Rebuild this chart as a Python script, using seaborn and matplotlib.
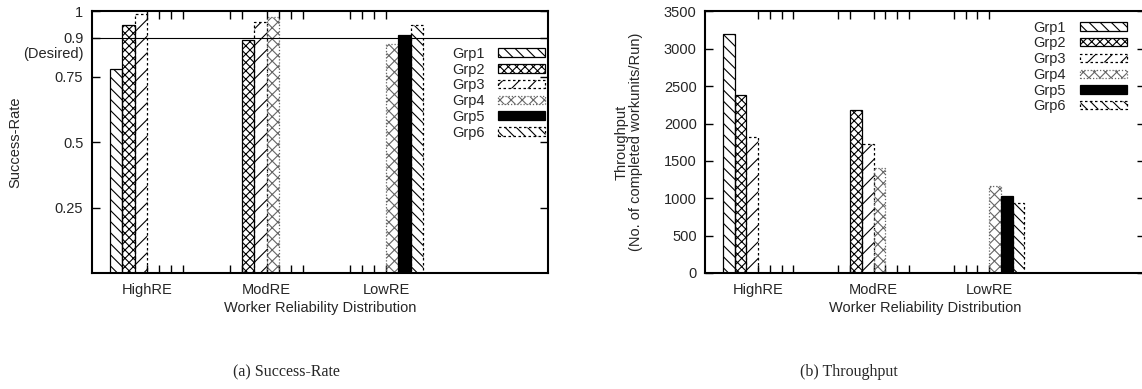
import numpy as np
import pandas as pd
import matplotlib
matplotlib.use("Agg")
import matplotlib.pyplot as plt
from matplotlib.patches import Patch
from matplotlib.transforms import blended_transform_factory, offset_copy
import seaborn as sns

# ---- data -------------------------------------------------------------
categories = ["HighRE", "ModRE", "LowRE"]
groups = ["Grp1", "Grp2", "Grp3", "Grp4", "Grp5", "Grp6"]
nan = np.nan

# success rate per reliability distribution (one value per group)
success_high = [0.78, 0.95, 0.99, nan, nan, nan]
success_mod = [nan, 0.89, 0.96, 0.98, nan, nan]
success_low = [nan, nan, nan, 0.875, 0.912, 0.95]

# throughput (completed workunits per run)
throughput_high = [3200, 2380, 1820, nan, nan, nan]
throughput_mod = [nan, 2175, 1720, 1410, nan, nan]
throughput_low = [nan, nan, nan, 1165, 1025, 940]

success_ticks = [0.25, 0.5, 0.75, 0.9, 1.0]
success_ticklabels = ["0.25", "0.5", "0.75", "0.9", "1"]
desired_rate = 0.9
throughput_ticks = [0, 500, 1000, 1500, 2000, 2500, 3000, 3500]

# ---- styling ----------------------------------------------------------
sns.set_style("ticks")
plt.rcParams["font.family"] = ["Liberation Sans", "DejaVu Sans"]
plt.rcParams["hatch.linewidth"] = 0.8
FS = 10.5
BS = chr(92)  # back-slash hatch stroke

group_style = {
    "Grp1": dict(facecolor="none", edgecolor="black", hatch=BS * 3, linestyle="-"),
    "Grp2": dict(facecolor="none", edgecolor="black", hatch="xxxx", linestyle="-"),
    "Grp3": dict(facecolor="none", edgecolor="black", hatch="//", linestyle=(0, (2, 2))),
    "Grp4": dict(facecolor="none", edgecolor="#666666", hatch="xxx", linestyle=(0, (1, 1.5))),
    "Grp5": dict(facecolor="black", edgecolor="black", hatch=None, linestyle="-"),
    "Grp6": dict(facecolor="none", edgecolor="black", hatch=BS * 3, linestyle=(0, (2, 2))),
}
palette = {g: ("black" if group_style[g]["facecolor"] == "black" else "white") for g in groups}
BAR_WIDTH = 0.61


def long_frame(rows):
    recs = []
    for cat, vals in zip(categories, rows):
        for g, v in zip(groups, vals):
            if not np.isnan(v):
                recs.append({"category": cat, "group": g, "value": v})
    return pd.DataFrame(recs)


def draw_panel(ax, rows, ylim, yticks, yticklabels, ylabel, legend_anchor):
    df = long_frame(rows)
    sns.barplot(data=df, x="category", y="value", hue="group",
                order=categories, hue_order=groups, palette=palette,
                width=BAR_WIDTH, gap=0, errorbar=None, legend=False,
                linewidth=0.9, saturation=1, ax=ax)
    for cont, g in zip(ax.containers, groups):
        st = group_style[g]
        for p in cont.patches:
            p.set_facecolor(st["facecolor"])
            p.set_edgecolor(st["edgecolor"])
            p.set_linestyle(st["linestyle"])
            if st["hatch"]:
                p.set_hatch(st["hatch"])

    ax.set_xlim(-0.46, 3.35)
    ax.set_ylim(*ylim)
    ax.set_yticks(yticks)
    ax.set_yticklabels(yticklabels)

    # short marks at the slot edges of groups without a value
    w = BAR_WIDTH / len(groups)
    minor = set()
    for i, vals in enumerate(rows):
        for j, v in enumerate(vals):
            if np.isnan(v):
                minor.add(round(i + (j - 3) * w, 4))
                minor.add(round(i + (j - 2) * w, 4))
    ax.set_xticks(sorted(minor), minor=True)

    ax.tick_params(axis="both", which="both", direction="in", length=5.5,
                   width=1.0, top=True, right=True, labelsize=FS, color="black")
    ax.tick_params(axis="x", pad=7)
    ax.tick_params(axis="y", pad=6)
    for s in ax.spines.values():
        s.set_linewidth(1.5)
        s.set_color("black")
        s.set_visible(True)

    ax.set_xlabel("Worker Reliability Distribution", fontsize=FS, labelpad=3)
    ax.set_ylabel(ylabel, fontsize=FS, linespacing=1.0)

    handles = [Patch(facecolor=group_style[g]["facecolor"],
                     edgecolor=group_style[g]["edgecolor"],
                     hatch=group_style[g]["hatch"],
                     linestyle=group_style[g]["linestyle"],
                     linewidth=0.9) for g in groups]
    ax.legend(handles, groups, loc="upper right", bbox_to_anchor=legend_anchor,
              frameon=False, markerfirst=False, fontsize=FS,
              handlelength=3.2, handleheight=0.5, handletextpad=0.95,
              labelspacing=0.12, borderpad=0, borderaxespad=0)


W, H = 1142, 389
fig = plt.figure(figsize=(W / 100, H / 100), dpi=100)
bottom = (H - 273) / H
height = (273 - 11.5) / H
ax1 = fig.add_axes([91.7 / W, bottom, (548 - 91.7) / W, height])
ax2 = fig.add_axes([705 / W, bottom, (1145 - 705) / W, height])

draw_panel(ax1, [success_high, success_mod, success_low], (0, 1),
           success_ticks, success_ticklabels, "Success-Rate", (0.993, 0.865))
ax1.axhline(desired_rate, color="black", linewidth=0.8, zorder=3)
ax1.yaxis.set_label_coords(-0.153, 0.5)
desired_tf = offset_copy(blended_transform_factory(ax1.transAxes, ax1.transData),
                         fig=fig, x=-6, y=-7, units="points")
ax1.text(0, desired_rate, "(Desired)", transform=desired_tf, ha="right",
         va="top", fontsize=FS)

draw_panel(ax2, [throughput_high, throughput_mod, throughput_low], (0, 3500),
           throughput_ticks, [str(t) for t in throughput_ticks],
           "Throughput\n(No. of completed workunits/Run)", (0.958, 0.965))
ax2.yaxis.set_label_coords(-0.141, 0.5)

fig.text(286 / W, 1 - 372 / H, "(a) Success-Rate", ha="center", va="center",
         fontsize=11.5, family=["Liberation Serif", "DejaVu Serif"])
fig.text(849 / W, 1 - 372 / H, "(b) Throughput", ha="center", va="center",
         fontsize=11.5, family=["Liberation Serif", "DejaVu Serif"])

fig.savefig("out.png", dpi=100, facecolor="white")
